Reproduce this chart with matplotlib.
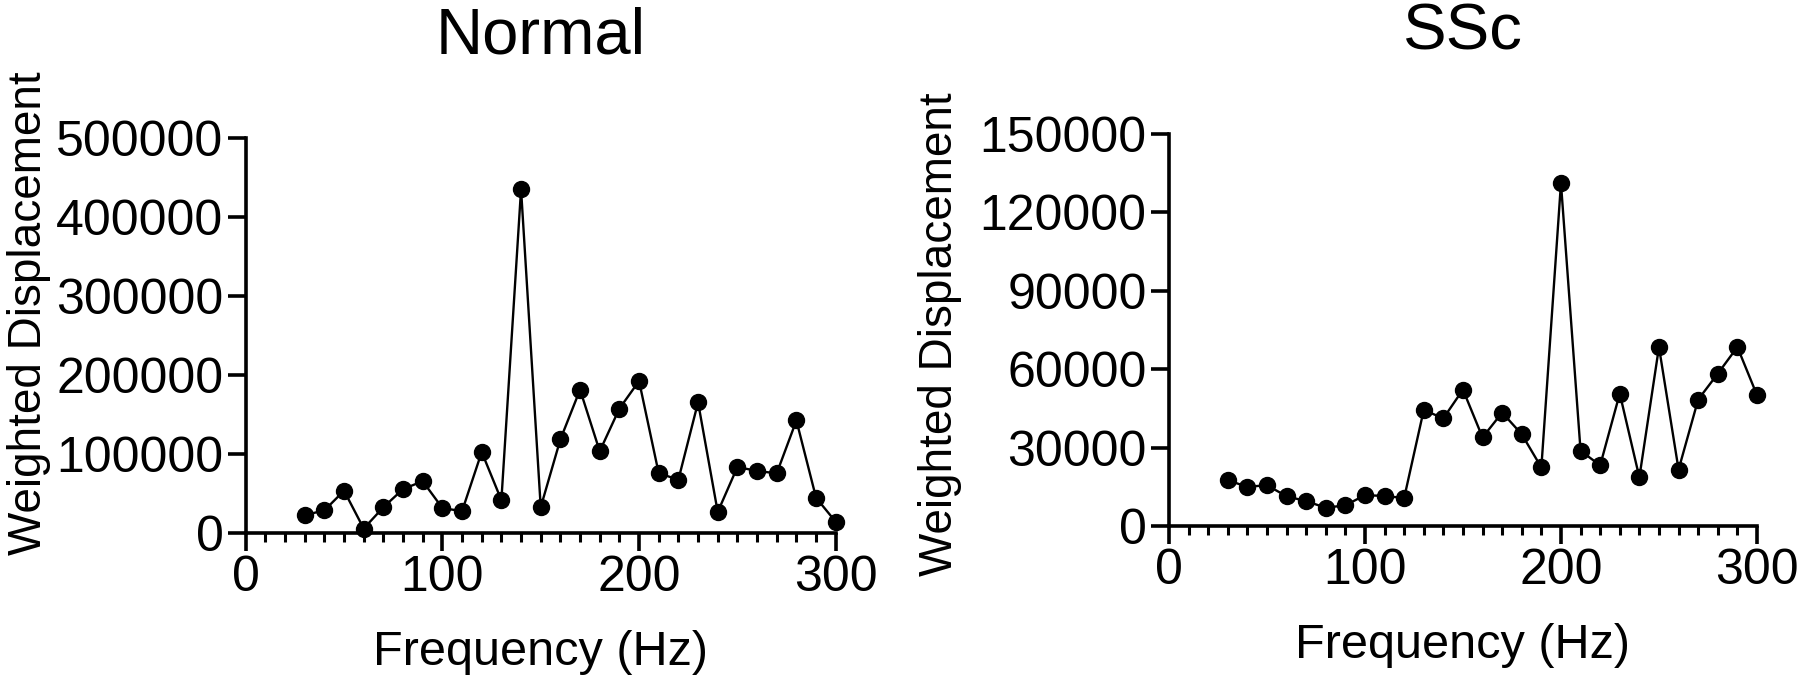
import matplotlib
matplotlib.use("Agg")
import matplotlib.pyplot as plt
from matplotlib.ticker import MultipleLocator, FixedLocator

plt.rcParams['font.family'] = ['Liberation Sans', 'DejaVu Sans']

freq = [30, 40, 50, 60, 70, 80, 90, 100, 110, 120, 130, 140, 150, 160, 170,
        180, 190, 200, 210, 220, 230, 240, 250, 260, 270, 280, 290, 300]
normal = [22000, 28000, 53000, 5000, 32000, 55000, 65000, 31000, 27000, 102000,
          41000, 435000, 32000, 118000, 181000, 103000, 157000, 192000, 75000,
          67000, 165000, 26000, 83000, 78000, 75000, 142000, 44000, 13500]
ssc = [17500, 15000, 15600, 11400, 9500, 7000, 7900, 11800, 11500, 10700,
       44400, 41200, 52200, 33900, 43400, 35100, 22400, 131200, 28800, 23200,
       50700, 18600, 68500, 21600, 48400, 58300, 68500, 50100]

titles = ["Normal", "SSc"]
x_ticks = [0, 100, 200, 300]
normal_yticks = [0, 100000, 200000, 300000, 400000, 500000]
ssc_yticks = [0, 30000, 60000, 90000, 120000, 150000]
xlabel = "Frequency (Hz)"
ylabel = "Weighted Displacement"

fig = plt.figure(figsize=(18, 6.78), dpi=100)
ax1 = fig.add_axes([0.1365, 0.2146, 0.3278, 0.5819])
ax2 = fig.add_axes([0.6494, 0.2242, 0.3267, 0.5780])

label_coords = [(-0.33, 0.555), (-0.352, 0.49)]

for ax, y, title, yt, lc in [(ax1, normal, titles[0], normal_yticks, label_coords[0]),
                             (ax2, ssc, titles[1], ssc_yticks, label_coords[1])]:
    ax.plot(freq, y, color='black', lw=1.7, marker='o', ms=11.5,
            clip_on=False, zorder=3)
    ax.set_xlim(0, 300)
    ax.set_ylim(yt[0], yt[-1])
    ax.xaxis.set_major_locator(FixedLocator(x_ticks))
    ax.xaxis.set_minor_locator(MultipleLocator(10))
    ax.yaxis.set_major_locator(FixedLocator(yt))
    ax.set_yticklabels([str(v) for v in yt])
    ax.set_xticklabels([str(v) for v in x_ticks])
    for s in ['top', 'right']:
        ax.spines[s].set_visible(False)
    for s in ['left', 'bottom']:
        ax.spines[s].set_linewidth(2.6)
    ax.tick_params(axis='both', which='major', direction='out', length=13,
                   width=2.6, labelsize=36, pad=3, color='black')
    ax.tick_params(axis='x', which='minor', direction='out', length=6.5,
                   width=2.2)
    ax.set_title(title, fontsize=47, pad=61)
    ax.set_xlabel(xlabel, fontsize=35, labelpad=21)
    ax.set_ylabel(ylabel, fontsize=33)
    ax.yaxis.set_label_coords(lc[0], lc[1])

fig.savefig("out.png", dpi=100)
